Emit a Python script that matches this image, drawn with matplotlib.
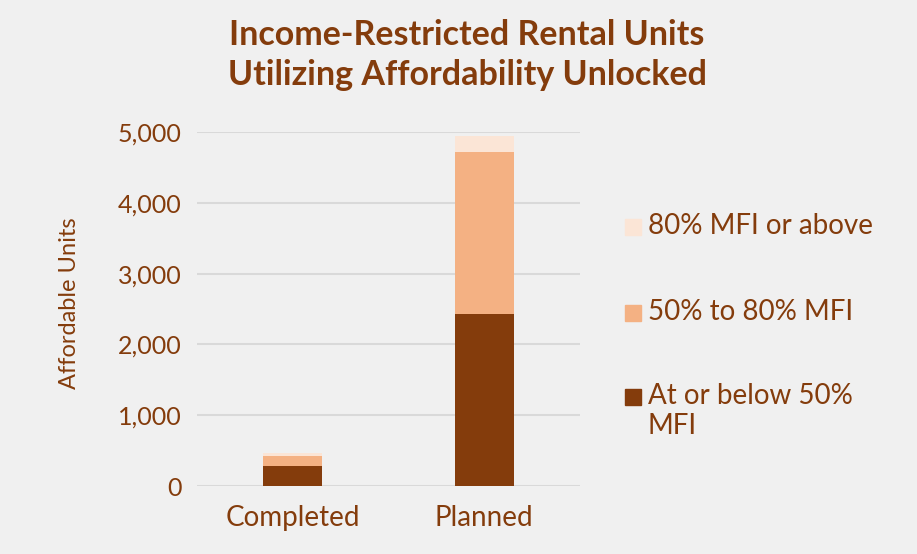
import matplotlib
matplotlib.use("Agg")
import matplotlib.pyplot as plt
from matplotlib.patches import Rectangle
import numpy as np

categories = ["Completed", "Planned"]
below_50 = [282, 2430]
mid_50_80 = [146, 2290]
above_80 = [38, 230]
series_labels = ["80% MFI or above", "50% to 80% MFI", "At or below 50%\nMFI"]

dark = "#843c0c"
mid = "#f4b183"
pale = "#fbe5d6"
bg = "#f0f0f0"

plt.rcParams["font.family"] = ["Lato", "DejaVu Sans"]

W, H = 917, 554
fig = plt.figure(figsize=(W / 100, H / 100), dpi=100, facecolor=bg)
ax = fig.add_axes([197 / W, 68 / H, 383 / W, 354 / H])
ax.set_facecolor(bg)

x = np.arange(len(categories))
w = 0.31
ax.bar(x, below_50, w, color=dark, zorder=3)
ax.bar(x, mid_50_80, w, bottom=below_50, color=mid, zorder=3)
bottom3 = np.array(below_50) + np.array(mid_50_80)
ax.bar(x, above_80, w, bottom=bottom3, color=pale, zorder=3)

ax.set_xlim(-0.5, 1.5)
ax.set_ylim(0, 5000)
ax.set_yticks(range(0, 5001, 1000))
ax.set_yticklabels(["0", "1,000", "2,000", "3,000", "4,000", "5,000"])
ax.set_xticks(x)
ax.set_xticklabels(categories)
ax.grid(axis="y", color="#d9d9d9", linewidth=1.5, zorder=0)
ax.tick_params(axis="y", length=0, labelsize=18, labelcolor=dark, pad=11)
ax.tick_params(axis="x", length=0, labelsize=20, labelcolor=dark, pad=14)
for s in ax.spines.values():
    s.set_visible(False)

fig.text(69 / W, 1 - 303 / H, "Affordable Units", rotation=90, fontsize=17,
         color=dark, ha="center", va="center")

fig.suptitle("Income-Restricted Rental Units\nUtilizing Affordability Unlocked",
             x=467 / W, y=1 - 19 / H, va="top", fontsize=24.5, fontweight="bold",
             color=dark, linespacing=1.3)

# legend drawn by hand so each square sits at the first text line
leg_colors = [pale, mid, dark]
leg_rows = [227, 313, 397]
for c, lab, yy in zip(leg_colors, series_labels, leg_rows):
    fig.patches.append(Rectangle((625 / W, 1 - (yy + 8) / H), 16 / W, 16 / H,
                                 transform=fig.transFigure, color=c))
    fig.text(648 / W, 1 - (yy - 14) / H, lab, fontsize=20, color=dark,
             ha="left", va="top", linespacing=1.2)

fig.savefig("out.png", dpi=100, facecolor=bg)
